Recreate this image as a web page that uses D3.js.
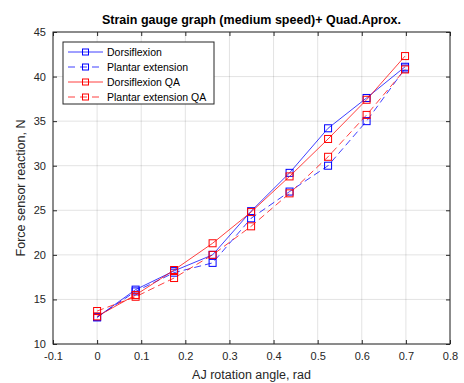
<!DOCTYPE html>
<meta charset="utf-8">
<script src="https://d3js.org/d3.v7.min.js"></script>
<style>
  body { margin: 0; background: #fff; font-family: 'Liberation Sans', Arial, sans-serif; }
  .grid line { stroke: #262626; stroke-opacity: 0.13; }
  .axis text { font-size: 11px; fill: #262626; font-family: 'Liberation Sans', Arial, sans-serif; }
  .axis path, .axis line { stroke: #262626; }
  text.title { font-size: 12.5px; font-weight: bold; fill: #000; }
  text.label { font-size: 12.5px; fill: #262626; }
  .legend text { font-size: 10.5px; fill: #000; }
</style>
<div id="chart"></div>
<script>

// x values: AJ rotation angle (rad), 0..40 deg in 5 deg steps
var angles = [0, 0.0873, 0.1745, 0.2618, 0.3491, 0.4363, 0.5236, 0.6109, 0.6981];

var dorsiflexion   = [13.0, 16.1, 18.2, 20.0, 24.9, 29.2, 34.2, 37.6, 41.1];
var plantar        = [13.0, 15.9, 18.0, 19.1, 24.1, 27.1, 30.0, 35.0, 40.9];
var dorsiflexionQA = [13.1, 15.5, 18.3, 21.3, 24.8, 28.8, 33.0, 37.4, 42.3];
var plantarQA      = [13.7, 15.3, 17.4, 20.0, 23.2, 26.9, 31.0, 35.7, 40.8];

var xTicks = [-0.1, 0, 0.1, 0.2, 0.3, 0.4, 0.5, 0.6, 0.7, 0.8];
var xTickLabels = ["-0.1", "0", "0.1", "0.2", "0.3", "0.4", "0.5", "0.6", "0.7", "0.8"];
var yTicks = [10, 15, 20, 25, 30, 35, 40, 45];

var series = [
  {name: "Dorsiflexion",        values: dorsiflexion,   color: "#0000ff", dash: null},
  {name: "Plantar extension",   values: plantar,        color: "#0000ff", dash: "7,4"},
  {name: "Dorsiflexion QA",     values: dorsiflexionQA, color: "#ff0000", dash: null},
  {name: "Plantar extension QA", values: plantarQA,     color: "#ff0000", dash: "7,4"}
];

var W = 464, H = 383;
var margin = {top: 32, right: 14, bottom: 39, left: 53},
    width = W - margin.left - margin.right,
    height = H - margin.top - margin.bottom;

var svg = d3.select("#chart")
  .append("svg")
    .attr("width", W)
    .attr("height", H)
  .append("g")
    .attr("transform", "translate(" + margin.left + "," + margin.top + ")");

var x = d3.scaleLinear().domain([-0.1, 0.8]).range([0, width]);
var y = d3.scaleLinear().domain([10, 45]).range([height, 0]);

// grid
svg.append("g").attr("class", "grid")
  .selectAll("line.gx").data(xTicks).enter().append("line")
    .attr("x1", function(d) { return x(d); }).attr("x2", function(d) { return x(d); })
    .attr("y1", 0).attr("y2", height);
svg.select(".grid")
  .selectAll("line.gy").data(yTicks).enter().append("line")
    .attr("y1", function(d) { return y(d); }).attr("y2", function(d) { return y(d); })
    .attr("x1", 0).attr("x2", width);

// axes (ticks inward, box on)
svg.append("g").attr("class", "axis")
  .attr("transform", "translate(0," + height + ")")
  .call(d3.axisBottom(x).tickValues(xTicks).tickSize(-4).tickPadding(8)
    .tickFormat(function(d, i) { return xTickLabels[i]; }));
svg.append("g").attr("class", "axis")
  .call(d3.axisLeft(y).tickValues(yTicks).tickSize(-4).tickPadding(7));
svg.append("g").attr("class", "axis")
  .call(d3.axisTop(x).tickValues(xTicks).tickSize(-4).tickFormat(""));
svg.append("g").attr("class", "axis")
  .attr("transform", "translate(" + width + ",0)")
  .call(d3.axisRight(y).tickValues(yTicks).tickSize(-4).tickFormat(""));
svg.selectAll(".axis path").attr("d", null);
svg.append("rect")
  .attr("width", width).attr("height", height)
  .attr("fill", "none").attr("stroke", "#262626").attr("stroke-width", 1);

// lines + markers
var line = d3.line()
  .x(function(d, i) { return x(angles[i]); })
  .y(function(d) { return y(d); });

series.forEach(function(s) {
  svg.append("path")
    .datum(s.values)
    .attr("fill", "none")
    .attr("stroke", s.color)
    .attr("stroke-opacity", 0.75)
    .attr("stroke-width", 1)
    .attr("stroke-dasharray", s.dash)
    .attr("d", line);
  svg.selectAll(null).data(s.values).enter().append("rect")
    .attr("x", function(d, i) { return x(angles[i]) - 3.5; })
    .attr("y", function(d) { return y(d) - 3.5; })
    .attr("width", 7).attr("height", 7)
    .attr("fill", "none")
    .attr("stroke", s.color)
    .attr("stroke-width", 1);
});

// title & labels
svg.append("text").attr("class", "title")
  .attr("x", width / 2).attr("y", -8)
  .attr("text-anchor", "middle")
  .text("Strain gauge graph (medium speed)+ Quad.Aprox.");
svg.append("text").attr("class", "label")
  .attr("x", width / 2).attr("y", height + 35)
  .attr("text-anchor", "middle")
  .text("AJ rotation angle, rad");
svg.append("text").attr("class", "label")
  .attr("transform", "translate(-28," + (height / 2) + ") rotate(-90)")
  .attr("text-anchor", "middle")
  .text("Force sensor reaction, N");

// legend
var lg = svg.append("g").attr("class", "legend")
  .attr("transform", "translate(" + (63 - margin.left) + "," + (42 - margin.top) + ")");
lg.append("rect")
  .attr("width", 151).attr("height", 62)
  .attr("fill", "#fff").attr("stroke", "#262626").attr("stroke-width", 1);
series.forEach(function(s, i) {
  var gy = 10 + i * 15;
  lg.append("line")
    .attr("x1", 5).attr("x2", 40).attr("y1", gy).attr("y2", gy)
    .attr("stroke", s.color).attr("stroke-opacity", 0.75)
    .attr("stroke-dasharray", s.dash ? "7,5" : null);
  lg.append("rect")
    .attr("x", 19.5).attr("y", gy - 3).attr("width", 6).attr("height", 6)
    .attr("fill", "none").attr("stroke", s.color);
  lg.append("text")
    .attr("x", 44).attr("y", gy + 4)
    .text(s.name);
});

</script>
